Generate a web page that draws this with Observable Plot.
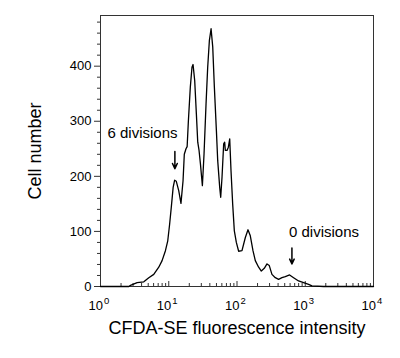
<!DOCTYPE html>
<html>
<head>
<meta charset="utf-8">
<script src="https://cdn.jsdelivr.net/npm/d3@7"></script>
<script src="https://cdn.jsdelivr.net/npm/@observablehq/plot@0.6"></script>
<style>
  html, body { margin: 0; padding: 0; background: #fff; }
  #chart svg { display: block; }
</style>
</head>
<body>
<div id="chart"></div>
<script>
// Fluorescence intensity (x) and cell count (y)
const intensity = [1, 2.6, 2.75, 3.44, 4.31, 5.10, 6.03, 7.14, 7.99, 8.94, 9.67, 10.3, 10.9, 11.6, 12.2, 12.9, 14.0, 15.1, 16.2, 16.9, 17.9, 18.6, 19.4, 20.7, 21.9, 22.7, 24.0, 25.4, 26.6, 27.8, 29.1, 31.1, 32.9, 35.2, 37.2, 39.4, 41.7, 44.1, 46.6, 49.9, 52.2, 55.8, 57.7, 60.3, 63.8, 66.0, 67.5, 71.4, 74.7, 78.2, 81.7, 86.4, 91.4, 97.8, 105.7, 118.3, 132.5, 144.9, 156.7, 171.4, 185.4, 207.5, 227.1, 251.2, 274.8, 297.2, 325.2, 364, 407, 456, 510, 590, 675, 798, 946, 1119, 1253, 1854, 10000];
const cells = [0, 0, 2, 7, 8.5, 16, 22, 35, 47, 65, 83, 113, 144, 180, 193, 191, 174, 151, 192, 240, 250, 254, 301, 362, 398, 403, 374, 313, 262, 247, 223, 183, 241, 332, 398, 447, 468, 435, 362, 283, 228, 180, 162, 198, 259, 262, 247, 247, 253, 268, 210, 150, 101, 80, 64, 65, 89, 103, 92, 65, 47, 35, 28, 33, 41, 38, 22, 16, 13, 16, 18, 21, 16, 10, 7, 4, 1, 0, 0];

const xMajorTicks = [1, 10, 100, 1000, 10000];
const xExponents = ["0", "1", "2", "3", "4"];
const xMinorTicks = [2,3,4,5,6,7,8,9,20,30,40,50,60,70,80,90,200,300,400,500,600,700,800,900,2000,3000,4000,5000,6000,7000,8000,9000];
const yMajorTicks = [0, 100, 200, 300, 400];
const yMinorTicks = [20,40,60,80,120,140,160,180,220,240,260,280,320,340,360,380,420,440,460,480];

const noteLabels = ["6 divisions", "0 divisions"];
const noteTextX = [4.12, 1884];
const noteTextY = [279, 99];
const arrowX = [12.3, 638];
const arrowTop = [245, 70];
const arrowBottom = [214, 41];

const xTitle = "CFDA-SE fluorescence intensity";
const yTitle = "Cell number";

const hist = intensity.map((x, i) => ({x, y: cells[i]}));
const notes = noteLabels.map((t, i) => ({t, x: noteTextX[i], y: noteTextY[i]}));
const arrows = arrowX.map((x, i) => ({x, y1: arrowTop[i], y2: arrowBottom[i]}));
const xLabels = xMajorTicks.map((x, i) => ({x, e: xExponents[i]}));

const chart = Plot.plot({
  width: 400,
  height: 358,
  marginLeft: 100,
  marginRight: 27,
  marginTop: 15,
  marginBottom: 72,
  style: {fontFamily: "'Liberation Sans', Arial, sans-serif", background: "#fff", color: "#000"},
  x: {type: "log", domain: [1, 10000]},
  y: {domain: [0, 492]},
  marks: [
    Plot.frame({stroke: "#333", strokeWidth: 1}),
    Plot.axisY(yMajorTicks, {tickSize: 6, tickPadding: 3, fontSize: 13, label: null, stroke: "#333"}),
    Plot.axisY(yMinorTicks, {tickSize: 3, tickFormat: () => "", label: null, stroke: "#333"}),
    Plot.axisX(xMajorTicks, {tickSize: -5, tickFormat: () => "", label: null, stroke: "#333"}),
    Plot.axisX(xMinorTicks, {tickSize: -3, tickFormat: () => "", label: null, stroke: "#333"}),
    Plot.text(xLabels, {x: "x", frameAnchor: "bottom", text: () => "10", textAnchor: "end", lineAnchor: "bottom", dx: 2.5, dy: 23, fontSize: 13, fill: "#000"}),
    Plot.text(xLabels, {x: "x", frameAnchor: "bottom", text: "e", textAnchor: "start", lineAnchor: "bottom", dx: 3.5, dy: 17, fontSize: 9.5, fill: "#000"}),
    Plot.line(hist, {x: "x", y: "y", stroke: "#000", strokeWidth: 1.3}),
    Plot.text(notes, {x: "x", y: "y", text: "t", fontSize: 15, fill: "#000"}),
    Plot.arrow(arrows, {x1: "x", x2: "x", y1: "y1", y2: "y2", stroke: "#000", strokeWidth: 1.5, headLength: 6, headAngle: 50}),
    Plot.text([xTitle], {frameAnchor: "bottom", dy: 47, text: d => d, fontSize: 18, fill: "#000"}),
    Plot.text([yTitle], {frameAnchor: "left", textAnchor: "middle", dx: -65, rotate: -90, text: d => d, fontSize: 18, fill: "#000"})
  ]
});
document.getElementById("chart").appendChild(chart);
</script>
</body>
</html>
